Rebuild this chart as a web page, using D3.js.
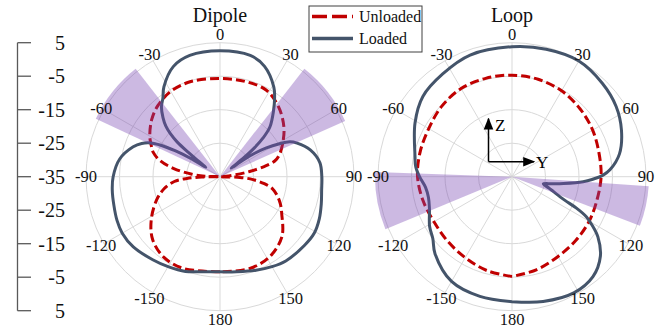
<!DOCTYPE html>
<html>
<head>
<meta charset="utf-8">
<script src="https://cdn.jsdelivr.net/npm/d3@7"></script>
<style>
  html, body { margin: 0; padding: 0; background: #fff; }
  svg { display: block; }
  svg text { font-family: "Liberation Serif", "Times New Roman", serif; }
</style>
</head>
<body>
<svg id="chart" width="664" height="332"></svg>
<script>
// Radial scale (dB) shared by both polar panels
const dbDomain = [-35, 5];
const ringValues = [-25, -15, -5, 5];
const scaleTickLabels = ["5", "-5", "-15", "-25", "-35", "-25", "-15", "-5", "5"];
const scaleTickValues = [5, -5, -15, -25, -35, -25, -15, -5, 5];
const angleTicks = [0, 30, 60, 90, 120, 150, 180, -150, -120, -90, -60, -30];
const angleTickLabels = ["0", "30", "60", "90", "120", "150", "180", "-150", "-120", "-90", "-60", "-30"];

// Dipole pattern (angle in degrees, gain in dB)
const dipoleUnloadedAngles = [-180,-158,-145,-133,-122,-110,-102,-96,-93,-91,-90,-88,-85,-80,-75,-70,-65,-60,-50,-41,-30,-17,0,15,28,40,52,62,70,74,77,80,83,86,90,92,95,99,103,108,114,121,134,148,162,180];
const dipoleUnloadedDb = [-6.6,-5.5,-5.7,-7.5,-10.8,-14.9,-18.0,-21.3,-25.1,-29.6,-35,-30.5,-26.6,-21.0,-16.5,-13.8,-12.3,-10.8,-8.4,-6.8,-5.6,-5.3,-5.7,-5.6,-5.7,-7.8,-10.8,-13.8,-16.2,-18.0,-21.3,-26.0,-30.5,-33.2,-35,-29.0,-25.1,-21.6,-18.9,-17.1,-15.3,-13.5,-9.3,-6.9,-6.2,-6.6];

const dipoleLoadedAngles = [-180,-170,-160,-150,-141,-129,-120,-113,-105,-97,-90,-80,-71,-67,-64,-62,-60,-58,-56,-54,-52.5,-51,-49,-47,-44,-40,-36,-32,-23,-14,0,14,22,31,35,39,45,48,50,51.5,53,54.5,56,58,61,63.5,66.5,73.5,82,90,97.5,105,113,121,129,142,150,159,170,180];
const dipoleLoadedDb = [-6.6,-6.2,-4.9,-4.0,-3.1,-1.7,-1.3,-1.6,-2.2,-2.6,-3.1,-4.6,-7.6,-9.6,-12.0,-15.0,-19.5,-24.6,-29.9,-26.6,-23.1,-18.6,-15.3,-12.9,-10.5,-7.8,-6.0,-3.4,0.7,2.3,2.6,2.3,0.5,-3.8,-6.6,-9.6,-13.9,-17.7,-21.6,-26.0,-30.8,-26.6,-22.5,-18.9,-14.7,-11.7,-9.9,-6.9,-4.9,-4.6,-4.4,-3.7,-2.8,-2.2,-2.5,-3.1,-4.0,-5.1,-6.2,-6.6];

// Loop pattern (angle in degrees, gain in dB)
const loopUnloadedAngles = [-180,-165,-150,-135,-120,-105,-90,-75,-60,-45,-30,-15,0,15,30,45,60,75,90,105,120,135,150,165,180];
const loopUnloadedDb = [-5.2,-6.0,-7.1,-7.8,-8.1,-7.5,-6.8,-6.6,-6.3,-5.3,-4.6,-4.6,-4.7,-4.9,-5.4,-6.3,-7.2,-8.1,-8.4,-8.7,-8.4,-8.1,-7.5,-6.3,-5.2];

const loopLoadedAngles = [-180,-165,-150,-135,-128,-121,-111,-104,-97,-90,-84,-78,-61,-48,-34,-19,0,15,30,44,56,67,78,86,89,92,94,97.5,100,103,107,110,114,116,118.3,121,125,132,141,152,166,180];
const loopLoadedDb = [2.3,2.0,1.1,-2.5,-5.0,-6.3,-8.6,-9.3,-9.0,-7.4,-6.1,-5.4,-1.9,0.8,2.0,3.4,3.8,4.4,4.9,3.8,2.5,0.5,-2.2,-5.7,-7.8,-11.1,-13.7,-19.5,-22.8,-25.4,-23.5,-21.7,-17.8,-13.6,-9.8,-7.2,-3.7,0.5,3.4,4.3,3.4,2.3];

// Shaded angular sectors [start, end] in degrees
const dipoleSectors = [[-65, -38], [38, 66]];
const loopSectors = [[-112.5, -88], [94, 111]];

const seriesNames = ["Unloaded", "Loaded"];
const seriesColors = ["#c00000", "#44546a"];

const FONT = "'Liberation Serif', 'Times New Roman', serif";
const svg = d3.select("#chart");
const R = 134;
const cy = 176.7;
const rScale = d3.scaleLinear().domain(dbDomain).range([0, R]).clamp(true);
const rad = d => d * Math.PI / 180;

function pairs(angles, values) {
  return angles.map((a, i) => [a, values[i]]);
}

function labelRadius(d) {
  return Math.abs(Math.abs(d) - 90) < 1 ? R : R - 2 + 10.5 * Math.abs(Math.cos(rad(d)));
}

function drawPanel(cx, title, unloaded, loaded, sectors) {
  const g = svg.append("g").attr("transform", `translate(${cx},${cy})`);

  // rings
  g.selectAll("circle.ring").data(ringValues).join("circle")
    .attr("r", d => rScale(d))
    .attr("fill", "none").attr("stroke", "#d9d9d9").attr("stroke-width", 1);

  // spokes
  g.selectAll("line.spoke").data(angleTicks).join("line")
    .attr("x1", 0).attr("y1", 0)
    .attr("x2", d => R * Math.sin(rad(d)))
    .attr("y2", d => -R * Math.cos(rad(d)))
    .attr("stroke", "#d9d9d9").attr("stroke-width", 1);

  const line = d3.lineRadial()
    .angle(d => rad(d[0]))
    .radius(d => rScale(d[1]))
    .curve(d3.curveCatmullRom.alpha(0.5));

  g.append("path").datum(unloaded)
    .attr("d", line).attr("fill", "none")
    .attr("stroke", seriesColors[0]).attr("stroke-width", 3)
    .attr("stroke-dasharray", "9,4");

  g.append("path").datum(loaded)
    .attr("d", line).attr("fill", "none")
    .attr("stroke", seriesColors[1]).attr("stroke-width", 3)
    .attr("stroke-linejoin", "round");

  // shaded sectors over the traces
  const arc = d3.arc().innerRadius(0).outerRadius(R + 3);
  g.selectAll("path.sector").data(sectors).join("path")
    .attr("d", d => arc({ startAngle: rad(d[0]), endAngle: rad(d[1]) }))
    .attr("fill", "rgb(120,70,180)").attr("fill-opacity", 0.38);

  // angle labels
  g.selectAll("text.ang").data(angleTicks).join("text")
    .attr("x", d => labelRadius(d) * Math.sin(rad(d)))
    .attr("y", d => -labelRadius(d) * Math.cos(rad(d)))
    .attr("text-anchor", "middle").attr("dominant-baseline", "central")
    .attr("font-family", FONT)
    .attr("font-size", 16.5).attr("fill", "#111")
    .text((d, i) => angleTickLabels[i]);

  svg.append("text").attr("x", cx).attr("y", 22)
    .attr("text-anchor", "middle").attr("font-family", FONT)
    .attr("font-size", 20).attr("fill", "#111")
    .text(title);
  return g;
}

drawPanel(220, "Dipole",
  pairs(dipoleUnloadedAngles, dipoleUnloadedDb),
  pairs(dipoleLoadedAngles, dipoleLoadedDb),
  dipoleSectors);

const loopG = drawPanel(512, "Loop",
  pairs(loopUnloadedAngles, loopUnloadedDb),
  pairs(loopLoadedAngles, loopLoadedDb),
  loopSectors);

// Z / Y coordinate arrows in the loop panel
const defs = svg.append("defs");
defs.append("marker").attr("id", "arrow")
  .attr("viewBox", "0 0 10 10").attr("refX", 9).attr("refY", 5)
  .attr("markerWidth", 8).attr("markerHeight", 8).attr("orient", "auto")
  .append("path").attr("d", "M0,1 L10,5 L0,9 Z").attr("fill", "#000");
loopG.append("line").attr("x1", -23.5).attr("y1", -15).attr("x2", -23.5).attr("y2", -58)
  .attr("stroke", "#000").attr("stroke-width", 1.5).attr("marker-end", "url(#arrow)");
loopG.append("line").attr("x1", -23.5).attr("y1", -15).attr("x2", 22).attr("y2", -15)
  .attr("stroke", "#000").attr("stroke-width", 1.5).attr("marker-end", "url(#arrow)");
loopG.append("text").attr("x", -17).attr("y", -46).attr("font-family", FONT)
  .attr("font-size", 17).attr("fill", "#000").text("Z");
loopG.append("text").attr("x", 24).attr("y", -9).attr("font-family", FONT)
  .attr("font-size", 17).attr("fill", "#000").text("Y");

// Left dB scale
const scaleG = svg.append("g");
const scaleY = (v, i) => i < 4 ? cy - rScale(v) : cy + rScale(v);
scaleG.append("line").attr("x1", 17.5).attr("x2", 17.5)
  .attr("y1", cy - R).attr("y2", cy + R)
  .attr("stroke", "#595959").attr("stroke-width", 1.3);
scaleG.selectAll("line.tick").data(scaleTickValues).join("line")
  .attr("x1", 17.5).attr("x2", 31)
  .attr("y1", (d, i) => scaleY(d, i)).attr("y2", (d, i) => scaleY(d, i))
  .attr("stroke", "#595959").attr("stroke-width", 1.3);
scaleG.selectAll("text").data(scaleTickValues).join("text")
  .attr("x", 65).attr("y", (d, i) => scaleY(d, i))
  .attr("text-anchor", "end").attr("dominant-baseline", "central")
  .attr("font-family", FONT)
  .attr("font-size", 20).attr("fill", "#111")
  .text((d, i) => scaleTickLabels[i]);

// Legend
const lg = svg.append("g");
lg.append("rect").attr("x", 309).attr("y", 6).attr("width", 113).attr("height", 46)
  .attr("fill", "#fff").attr("stroke", "#404040").attr("stroke-width", 1);
seriesNames.forEach((name, i) => {
  const y = 16.5 + i * 22;
  lg.append("line").attr("x1", 312).attr("x2", 353).attr("y1", y).attr("y2", y)
    .attr("stroke", seriesColors[i]).attr("stroke-width", 3.5)
    .attr("stroke-dasharray", i === 0 ? "15,5" : null);
  lg.append("text").attr("x", 359).attr("y", y).attr("dominant-baseline", "central")
    .attr("font-family", FONT)
    .attr("font-size", 16).attr("fill", "#111").text(name);
});
</script>
</body>
</html>
